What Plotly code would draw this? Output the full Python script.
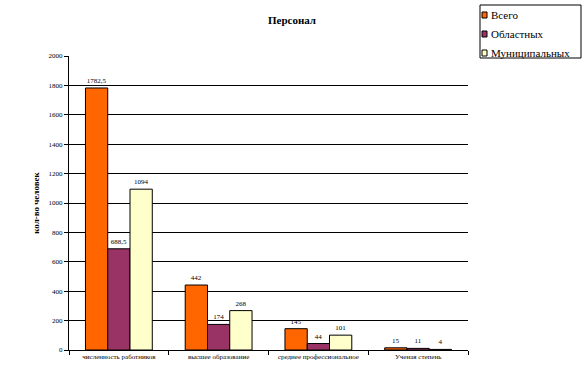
import plotly.graph_objects as go

categories = ["численность работников", "высшее образование", "среднее профессиональное", "Ученая степень"]
vsego = [1782.5, 442, 145, 15]
oblastnyh = [688.5, 174, 44, 11]
municipalnyh = [1094, 268, 101, 4]
series_names = ["Всего", "Областных", "Муниципальных"]
colors = ["#FF6600", "#993366", "#FFFFCC"]
y_ticks = list(range(0, 2001, 200))

W, H = 586, 384
ML, MR, MT, MB = 69, 118, 56, 34
PW, PH = W - ML - MR, H - MT - MB


def px_x(px):
    return (px - ML) / PW


def px_y(py):
    return (H - MB - py) / PH


def fmt(v):
    return ("%g" % v).replace(".", ",")


fig = go.Figure()
for name, vals, col in zip(series_names, [vsego, oblastnyh, municipalnyh], colors):
    fig.add_trace(go.Bar(
        x=categories, y=vals, name=name, showlegend=False,
        marker=dict(color=col, line=dict(color="black", width=1)),
        text=[fmt(v) for v in vals], textposition="outside",
        textfont=dict(family="Liberation Serif", size=7, color="black"),
        cliponaxis=False,
    ))

# legend box drawn in layout (pixel-based placement)
shapes = [dict(type="rect", xref="paper", yref="paper",
               x0=px_x(480), x1=px_x(581), y0=px_y(58), y1=px_y(5),
               line=dict(color="black", width=1), fillcolor="white", layer="above")]
annotations = []
item_y = [15, 34, 53]
for name, col, iy in zip(series_names, colors, item_y):
    shapes.append(dict(type="rect", xref="paper", yref="paper",
                       x0=px_x(482), x1=px_x(487), y0=px_y(iy + 3), y1=px_y(iy - 3),
                       line=dict(color="black", width=1), fillcolor=col, layer="above"))
    annotations.append(dict(text=name, xref="paper", yref="paper", x=px_x(489), y=px_y(iy),
                            xanchor="left", yanchor="middle", showarrow=False,
                            font=dict(family="Liberation Serif", size=11, color="black")))

fig.update_layout(
    width=W, height=H,
    margin=dict(l=ML, r=MR, t=MT, b=MB, autoexpand=False),
    paper_bgcolor="white", plot_bgcolor="white",
    barmode="group", bargap=0.33, bargroupgap=0,
    font=dict(family="Liberation Serif", color="black"),
    title=dict(text="<b>Персонал</b>", x=292 / W, xanchor="center", y=1 - 20 / H, yanchor="middle",
               font=dict(size=11, family="Liberation Serif", color="black")),
    showlegend=False,
    shapes=shapes, annotations=annotations,
    xaxis=dict(showline=True, linecolor="black", linewidth=1,
               ticks="outside", tickson="boundaries", ticklen=4, tickcolor="black",
               tickfont=dict(size=7, family="Liberation Serif"), showgrid=False),
    yaxis=dict(range=[0, 2000], tickvals=y_ticks, showline=True, linecolor="black", linewidth=1,
               ticks="outside", ticklen=4, tickcolor="black",
               tickfont=dict(size=7, family="Liberation Serif"),
               showgrid=True, gridcolor="black", gridwidth=1, zeroline=False,
               title=dict(text="<b>кол-во человек</b>", font=dict(size=9, family="Liberation Serif"), standoff=7)),
)

fig.write_html("out.html", config={"displayModeBar": False},
               post_script="document.body.style.margin='0';")
